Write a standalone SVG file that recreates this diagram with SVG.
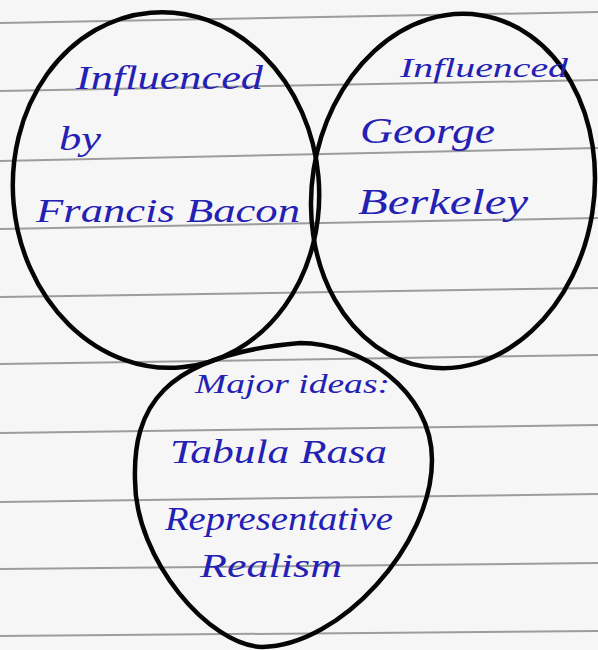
<svg xmlns="http://www.w3.org/2000/svg" width="598" height="650" viewBox="0 0 598 650">
<style>
.paper{fill:#f6f6f6}
.rule{stroke:#9c9c9c;stroke-width:2;fill:none}
.ring{fill:none;stroke:#050505;stroke-width:4.5}
.ink{font-family:"Liberation Serif","DejaVu Serif",serif;font-style:italic;fill:#2420b4}
</style>
<rect class="paper" x="0" y="0" width="598" height="650"/>
<g id="rules">
<line class="rule" x1="0" y1="23" x2="598" y2="12"/>
<line class="rule" x1="0" y1="91" x2="598" y2="80"/>
<line class="rule" x1="0" y1="161" x2="598" y2="148"/>
<line class="rule" x1="0" y1="229" x2="598" y2="218"/>
<line class="rule" x1="0" y1="297" x2="598" y2="288"/>
<line class="rule" x1="0" y1="364" x2="598" y2="355"/>
<line class="rule" x1="0" y1="433" x2="598" y2="425"/>
<line class="rule" x1="0" y1="502" x2="598" y2="494"/>
<line class="rule" x1="0" y1="569" x2="598" y2="563"/>
<line class="rule" x1="0" y1="636" x2="598" y2="631"/>
</g>
<g id="node-bacon">
<ellipse class="ring" cx="166" cy="190" rx="153" ry="178" transform="rotate(-5 166 190)"/>
<text class="ink" x="76" y="89" font-size="34" textLength="187" lengthAdjust="spacingAndGlyphs">Influenced</text>
<text class="ink" x="59" y="150" font-size="34" textLength="42" lengthAdjust="spacingAndGlyphs">by</text>
<text class="ink" x="36" y="222" font-size="34" textLength="264" lengthAdjust="spacingAndGlyphs">Francis Bacon</text>
</g>
<g id="node-berkeley">
<ellipse class="ring" cx="453" cy="191" rx="141" ry="178" transform="rotate(9 453 191)"/>
<text class="ink" x="400" y="77" font-size="28" textLength="168" lengthAdjust="spacingAndGlyphs">Influenced</text>
<text class="ink" x="360" y="143" font-size="36" textLength="135" lengthAdjust="spacingAndGlyphs">George</text>
<text class="ink" x="358" y="214" font-size="36" textLength="170" lengthAdjust="spacingAndGlyphs">Berkeley</text>
</g>
<g id="node-ideas">
<path class="ring" d="M300 343 C360 343 432 390 432 460 C432 545 340 646 262 647 C210 646 135 560 135 480 C133 410 160 355 300 343 Z"/>
<text class="ink" x="195" y="393" font-size="28" textLength="195" lengthAdjust="spacingAndGlyphs">Major ideas:</text>
<text class="ink" x="170" y="463" font-size="34" textLength="217" lengthAdjust="spacingAndGlyphs">Tabula Rasa</text>
<text class="ink" x="165" y="530" font-size="34" textLength="228" lengthAdjust="spacingAndGlyphs">Representative</text>
<text class="ink" x="200" y="577" font-size="34" textLength="142" lengthAdjust="spacingAndGlyphs">Realism</text>
</g>
<g id="connectors"/>
</svg>
